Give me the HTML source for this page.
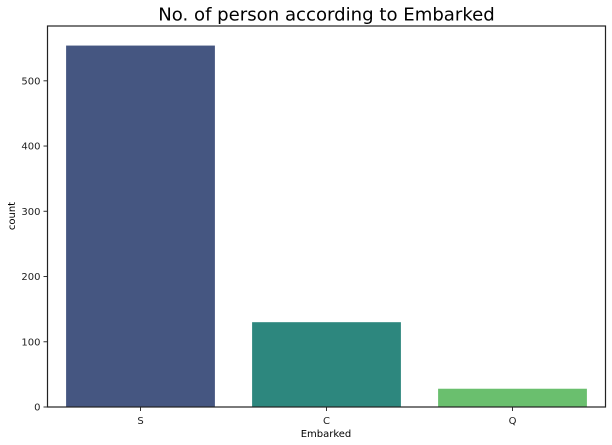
<!DOCTYPE html>
<html><head><meta charset="utf-8"><style>
body{margin:0;background:#fff;}
svg{display:block;font-family:"DejaVu Sans","Liberation Sans",sans-serif;}
</style></head><body>
<svg id="chart" width="612" height="445">
<text x="326.5" y="20.5" text-anchor="middle" font-size="18.1" fill="#000">No. of person according to Embarked</text>
<g id="bars"></g>
<g id="axes"></g>
<text x="326" y="437" text-anchor="middle" font-size="10">Embarked</text>
<text transform="translate(15,216) rotate(-90)" text-anchor="middle" font-size="10">count</text>
</svg>
<script>
const categories = ["S","C","Q"];
const counts = [554, 130, 28];
const colors = ["#455681","#2d877e","#6abf6e"];
const yTicks = [0,100,200,300,400,500];

const L=47.5,R=605.5,T=26,B=407;
const yScale=v=>B-v*0.6524;
const band=(R-L)/categories.length;
const xCenter=i=>L+band*(i+0.5);
const ns="http://www.w3.org/2000/svg";
const bars=document.getElementById('bars'), axes=document.getElementById('axes');
function mk(tag,attrs,parent){const e=document.createElementNS(ns,tag);for(const k in attrs)e.setAttribute(k,attrs[k]);parent.appendChild(e);return e;}
categories.forEach((c,i)=>{
  const w=band*0.8;
  const r=mk('rect',{x:xCenter(i)-w/2,y:yScale(counts[i]),width:w,height:B-yScale(counts[i]),fill:colors[i]},bars);
  
  
  mk('line',{x1:xCenter(i),x2:xCenter(i),y1:B,y2:B+4,stroke:'#333','stroke-width':1},axes);
  const t=mk('text',{x:xCenter(i),y:B+17,'text-anchor':'middle','font-size':10,fill:'#222'},axes);
  t.textContent=c;
  
  
});
yTicks.forEach(v=>{
  const y=yScale(v);
  mk('line',{x1:L-4,x2:L,y1:y,y2:y,stroke:'#333','stroke-width':1},axes);
  const t=mk('text',{x:L-7,y:y+3.5,'text-anchor':'end','font-size':10,fill:'#222'},axes);
  t.textContent=v;
  
  
});
const frame=mk('rect',{x:L,y:T,width:R-L,height:B-T,fill:'none',stroke:'#222','stroke-width':1.2},axes);


</script>
</body></html>
